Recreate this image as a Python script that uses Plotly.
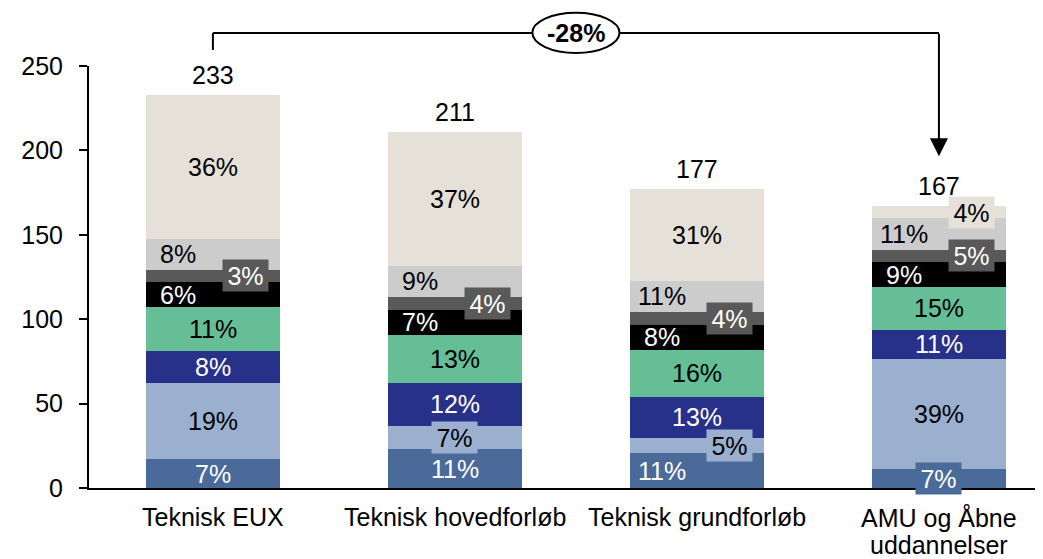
import plotly.graph_objects as go

# ==========================================
# Data
# ==========================================
categories = ["Teknisk EUX", "Teknisk hovedforløb", "Teknisk grundforløb", "AMU og Åbne<br>uddannelser"]
totals = [233, 211, 177, 167]
change_label = "-28%"

# segment values, bottom to top
seg_steel = [17.0, 23.0, 20.6, 11.5]
seg_lightblue = [45.0, 13.8, 9.3, 65.0]
seg_navy = [19.0, 25.7, 24.0, 17.4]
seg_green = [26.0, 28.2, 28.0, 25.0]
seg_black = [15.0, 15.0, 14.7, 15.0]
seg_darkgray = [7.4, 7.3, 7.5, 7.3]
seg_lightgray = [18.4, 18.8, 18.8, 18.6]
seg_beige = [85.2, 79.2, 54.1, 7.2]

# percentage labels as printed
pct_steel = ["7%", "11%", "11%", "7%"]
pct_lightblue = ["19%", "7%", "5%", "39%"]
pct_navy = ["8%", "12%", "13%", "11%"]
pct_green = ["11%", "13%", "16%", "15%"]
pct_black = ["6%", "7%", "8%", "9%"]
pct_darkgray = ["3%", "4%", "4%", "5%"]
pct_lightgray = ["8%", "9%", "11%", "11%"]
pct_beige = ["36%", "37%", "31%", "4%"]

# ==========================================
# Style
# ==========================================
FONT = "Arial, Liberation Sans, sans-serif"
FS = 25

series = [
    (seg_steel, pct_steel, "#4A6A9A", "white", ["c", "c", "l", "cb"]),
    (seg_lightblue, pct_lightblue, "#9BB0CF", "black", ["c", "cb", "rb", "c"]),
    (seg_navy, pct_navy, "#28318A", "white", ["c", "c", "c", "c"]),
    (seg_green, pct_green, "#66BE96", "black", ["c", "c", "c", "c"]),
    (seg_black, pct_black, "#000000", "white", ["l", "l", "l", "l"]),
    (seg_darkgray, pct_darkgray, "#595959", "white", ["rb", "rb", "rb", "rb"]),
    (seg_lightgray, pct_lightgray, "#CCCCCC", "black", ["l", "l", "l", "l"]),
    (seg_beige, pct_beige, "#E6E1D8", "black", ["c", "c", "c", "rb"]),
]
SHIFT = {"c": 0, "cb": 0, "l": -35, "rb": 33}

xs = list(range(len(categories)))
fig = go.Figure()
annotations = []
base = [0.0] * len(categories)

for vals, pcts, color, fcolor, places in series:
    fig.add_trace(go.Bar(
        x=xs, y=vals, width=0.555, marker=dict(color=color, line=dict(width=0)),
        hoverinfo="skip", showlegend=False
    ))
    for i, (v, p, pl) in enumerate(zip(vals, pcts, places)):
        ann = dict(
            x=i, y=base[i] + v / 2, xref="x", yref="y", text=p, showarrow=False,
            xshift=SHIFT[pl], font=dict(family=FONT, size=FS, color=fcolor)
        )
        if pl.endswith("b"):
            ann.update(bgcolor=color, width=45, height=31, borderpad=0)
        annotations.append(ann)
        base[i] += v

# totals above bars
for i, t in enumerate(totals):
    annotations.append(dict(
        x=i, y=t, xref="x", yref="y", text=str(t), showarrow=False,
        yanchor="bottom", yshift=4, font=dict(family=FONT, size=FS, color="black")
    ))

# category labels (one annotation per line to keep tight line spacing)
for i, cat in enumerate(categories):
    for k, line in enumerate(cat.split("<br>")):
        annotations.append(dict(
            x=i, y=0, xref="x", yref="paper", text=line, showarrow=False,
            yanchor="middle", yshift=-29 - 28 * k,
            font=dict(family=FONT, size=FS, color="black")
        ))

# bracket with arrow
y_top = 1.078
annotations.append(dict(
    x=3, y=totals[3] + 29.6, xref="x", yref="y", ax=0, ay=-124, text="",
    showarrow=True, arrowhead=2, arrowsize=1.8, arrowwidth=2, arrowcolor="black"
))
annotations.append(dict(
    x=1.5, y=y_top, xref="x", yref="paper", text="<b>" + change_label + "</b>",
    showarrow=False, yanchor="middle", font=dict(family=FONT, size=FS, color="black")
))

shapes = [
    dict(type="line", xref="x", yref="paper", x0=0, x1=0, y0=1.038, y1=y_top,
         line=dict(color="black", width=2)),
    dict(type="line", xref="x", yref="paper", x0=0, x1=3, y0=y_top, y1=y_top,
         line=dict(color="black", width=2)),
    dict(type="circle", xref="x", yref="paper", x0=1.5 - 0.18, x1=1.5 + 0.18,
         y0=1.031, y1=1.126, fillcolor="white", line=dict(color="black", width=2)),
]

fig.update_layout(
    barmode="stack",
    width=1035, height=551,
    margin=dict(l=81, r=0, t=58, b=71),
    plot_bgcolor="white", paper_bgcolor="white",
    font=dict(family=FONT, size=FS, color="black"),
    annotations=annotations,
    shapes=shapes,
)
fig.update_xaxes(
    range=[-0.512, 3.43], tickvals=xs, showticklabels=False,
    showline=True, linecolor="black", linewidth=2, showgrid=False, zeroline=False,
    ticks=""
)
fig.update_yaxes(
    range=[0, 250], tickvals=[0, 50, 100, 150, 200, 250],
    showline=True, linecolor="black", linewidth=2, showgrid=False, zeroline=False,
    ticks="outside", ticklen=8, tickwidth=1.5, tickcolor="black", ticklabelstandoff=11,
    tickfont=dict(family=FONT, size=FS, color="black")
)

fig.write_html("out.html")
